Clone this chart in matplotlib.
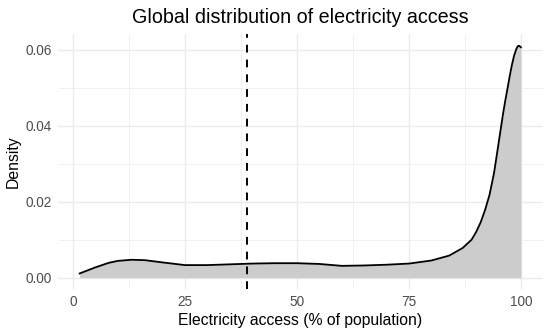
import matplotlib
import matplotlib.pyplot as plt
from matplotlib.ticker import MultipleLocator, FixedLocator

matplotlib.use("Agg")
plt.rcParams["font.family"] = ["Liberation Sans", "DejaVu Sans"]

# density curve
access = [1.5, 5, 8, 10, 13, 16, 20, 25, 30, 35, 40, 45, 50, 55, 60, 65, 70,
          75, 80, 84, 87, 89, 90, 91, 92, 93, 94, 95, 96, 96.5, 97, 97.5, 98,
          98.5, 99, 99.3, 99.6, 100]
density = [0.0011, 0.0027, 0.0039, 0.0044, 0.0047, 0.0046, 0.0040, 0.0033,
           0.0033, 0.0035, 0.0037, 0.0038, 0.0038, 0.0036, 0.0031, 0.0032,
           0.0034, 0.0037, 0.0045, 0.0058, 0.0078, 0.0100, 0.0120, 0.0145,
           0.0178, 0.0218, 0.0275, 0.0352, 0.0430, 0.0465, 0.0497, 0.0530,
           0.0560, 0.0585, 0.0602, 0.0609, 0.0610, 0.0606]
mean_access = 38.9
x_ticks = [0, 25, 50, 75, 100]
y_ticks = [0.00, 0.02, 0.04, 0.06]

fig = plt.figure(figsize=(5.5, 3.33), dpi=100)
ax = fig.add_axes([0.105, 0.132, 0.882, 0.766])

ax.fill_between(access, density, 0, color="#CCCCCC", linewidth=0, zorder=2)
ax.plot(access, density, color="black", linewidth=1.3, zorder=3,
        solid_joinstyle="round")
ax.axvline(mean_access, color="black", linestyle=(0, (4, 3.6)), linewidth=1.4, zorder=4)

ax.set_xlim(-3.4, 104.9)
ax.set_ylim(-0.003, 0.0641)
ax.xaxis.set_major_locator(FixedLocator(x_ticks))
ax.xaxis.set_minor_locator(MultipleLocator(12.5))
ax.yaxis.set_major_locator(FixedLocator(y_ticks))
ax.yaxis.set_minor_locator(MultipleLocator(0.01))
ax.set_yticklabels([f"{v:.2f}" for v in y_ticks])

ax.grid(which="major", color="#EBEBEB", linewidth=1.0, zorder=0)
ax.grid(which="minor", color="#EBEBEB", linewidth=0.5, zorder=0)
ax.set_axisbelow(True)
for s in ax.spines.values():
    s.set_visible(False)
ax.tick_params(which="both", length=0, labelsize=9.8, labelcolor="#4D4D4D", pad=4)

ax.set_xlabel("Electricity access (% of population)", fontsize=11.3, labelpad=3)
ax.set_ylabel("Density", fontsize=11.3, labelpad=4)
ax.set_title("Global distribution of electricity access", fontsize=14.2, pad=8)

fig.savefig("out.png", dpi=100)
